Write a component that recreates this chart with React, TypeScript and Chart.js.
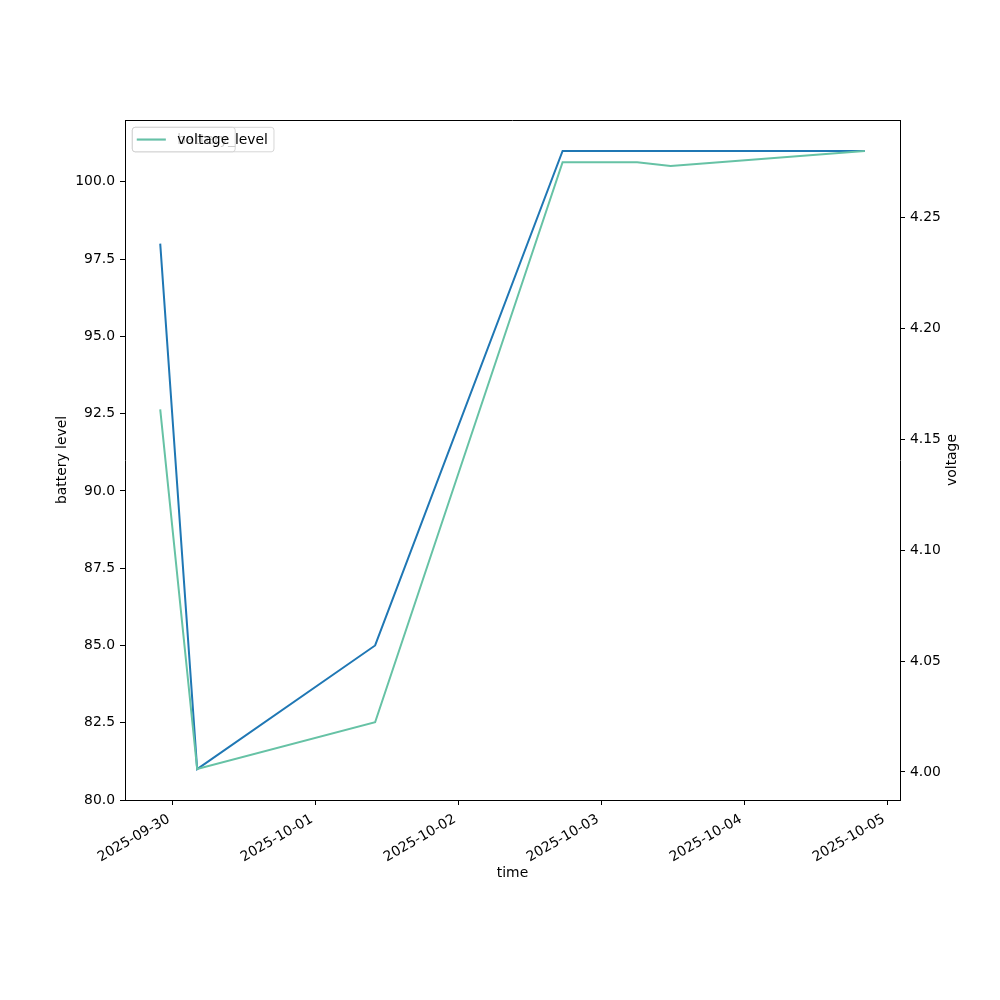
import React, { useEffect, useRef } from 'react';
import { Chart, registerables } from 'chart.js';

Chart.register(...registerables);

// ---- data ----
const TIMES = [
  '2025-09-29T21:53',
  '2025-09-30T04:05',
  '2025-10-01T09:57',
  '2025-10-02T17:25',
  '2025-10-03T05:56',
  '2025-10-03T11:33',
  '2025-10-04T20:08',
];
const BATTERY_LEVEL = [98, 81, 85, 101, 101, 101, 101];
const VOLTAGE = [4.1635, 4.0013, 4.0224, 4.2749, 4.2749, 4.2732, 4.28];

const X_TICK_DATES = ['2025-09-30', '2025-10-01', '2025-10-02', '2025-10-03', '2025-10-04', '2025-10-05'];
const BATTERY_TICKS = [80, 82.5, 85, 87.5, 90, 92.5, 95, 97.5, 100];
const VOLTAGE_TICKS = [4.0, 4.05, 4.1, 4.15, 4.2, 4.25];

const SERIES_LABELS = ['battery_level', 'voltage'];
const AXIS_TITLES = { x: 'time', left: 'battery level', right: 'voltage' };

const BATTERY_COLOR = '#1f77b4';
const VOLTAGE_COLOR = '#66c2a5';
const FONT_FAMILY = '"DejaVu Sans", sans-serif';
const FONT_SIZE = 13.9;

const toMs = (s: string) => Date.parse(s + ':00Z');
const dayMs = (s: string) => Date.parse(s + 'T00:00:00Z');

function padded(arr: number[]) {
  const mn = Math.min(...arr);
  const mx = Math.max(...arr);
  const m = (mx - mn) * 0.05;
  return { min: mn - m, max: mx + m };
}

function drawLegendBox(ctx: CanvasRenderingContext2D, x: number, y: number, label: string, color: string) {
  ctx.save();
  ctx.font = `${FONT_SIZE}px ${FONT_FAMILY}`;
  const tw = ctx.measureText(label).width;
  const w = 45 + tw + 6;
  const h = 24.5;
  const r = 2.8;
  ctx.beginPath();
  ctx.moveTo(x + r, y);
  ctx.lineTo(x + w - r, y);
  ctx.quadraticCurveTo(x + w, y, x + w, y + r);
  ctx.lineTo(x + w, y + h - r);
  ctx.quadraticCurveTo(x + w, y + h, x + w - r, y + h);
  ctx.lineTo(x + r, y + h);
  ctx.quadraticCurveTo(x, y + h, x, y + h - r);
  ctx.lineTo(x, y + r);
  ctx.quadraticCurveTo(x, y, x + r, y);
  ctx.closePath();
  ctx.fillStyle = 'rgba(255,255,255,0.8)';
  ctx.fill();
  ctx.strokeStyle = 'rgba(204,204,204,0.8)';
  ctx.lineWidth = 1;
  ctx.stroke();
  // handle
  ctx.beginPath();
  ctx.moveTo(x + 4.5, y + h / 2);
  ctx.lineTo(x + 33.5, y + h / 2);
  ctx.strokeStyle = color;
  ctx.lineWidth = 2;
  ctx.stroke();
  ctx.fillStyle = '#000';
  ctx.textAlign = 'left';
  ctx.textBaseline = 'middle';
  ctx.fillText(label, x + 45, y + h / 2 + 0.5);
  ctx.restore();
}

const framePlugin = {
  id: 'mplFrame',
  beforeDatasetsDraw(chart: any) {
    const { ctx, chartArea } = chart;
    ctx.save();
    ctx.strokeStyle = '#000';
    ctx.lineWidth = 1;
    ctx.beginPath();
    ctx.moveTo(chartArea.left, chartArea.top + 0.5);
    ctx.lineTo(chartArea.right, chartArea.top + 0.5);
    ctx.stroke();
    ctx.restore();
  },
  afterDraw(chart: any) {
    const { ctx, chartArea } = chart;
    // right axis title, reading bottom-to-top like matplotlib
    ctx.save();
    ctx.font = `${FONT_SIZE}px ${FONT_FAMILY}`;
    ctx.fillStyle = '#000';
    ctx.textAlign = 'center';
    ctx.textBaseline = 'middle';
    ctx.translate(chartArea.right + 52, (chartArea.top + chartArea.bottom) / 2);
    ctx.rotate(-Math.PI / 2);
    ctx.fillText(AXIS_TITLES.right, 0, 0);
    ctx.restore();

    const x0 = chartArea.left + 7.3;
    const y0 = chartArea.top + 7.3;
    drawLegendBox(ctx, x0, y0, SERIES_LABELS[0], BATTERY_COLOR);
    drawLegendBox(ctx, x0, y0, SERIES_LABELS[1], VOLTAGE_COLOR);
  },
};

export default function App() {
  const ref = useRef<HTMLCanvasElement | null>(null);

  useEffect(() => {
    if (!ref.current) return;
    const xs = TIMES.map(toMs);
    const xr = padded(xs);
    const br = padded(BATTERY_LEVEL);
    const vr = padded(VOLTAGE);
    const tickMs = X_TICK_DATES.map(dayMs);
    const font = { family: FONT_FAMILY, size: FONT_SIZE };

    const chart = new Chart(ref.current, {
      type: 'line',
      data: {
        datasets: [
          {
            label: SERIES_LABELS[1],
            data: xs.map((x, i) => ({ x, y: VOLTAGE[i] })),
            borderColor: VOLTAGE_COLOR,
            backgroundColor: VOLTAGE_COLOR,
            yAxisID: 'y1',
            order: 0,
          },
          {
            label: SERIES_LABELS[0],
            data: xs.map((x, i) => ({ x, y: BATTERY_LEVEL[i] })),
            borderColor: BATTERY_COLOR,
            backgroundColor: BATTERY_COLOR,
            yAxisID: 'y',
            order: 1,
          },
        ],
      },
      options: {
        responsive: false,
        animation: false,
        devicePixelRatio: 1,
        layout: { padding: { top: 120, left: 0, right: 0, bottom: 0 } },
        plugins: { legend: { display: false }, tooltip: { enabled: false } },
        elements: {
          point: { radius: 0, hoverRadius: 0 },
          line: { tension: 0, borderWidth: 2 },
        },
        scales: {
          x: {
            type: 'linear',
            position: 'bottom',
            min: xr.min,
            max: xr.max,
            afterBuildTicks: (s: any) => {
              s.ticks = tickMs.map((v) => ({ value: v }));
            },
            afterFit: (s: any) => {
              s.height = 200;
            },
            ticks: {
              autoSkip: false,
              minRotation: 30,
              maxRotation: 30,
              padding: 6,
              labelOffset: -4,
              color: '#000',
              font,
              callback: (v: any) => {
                const i = tickMs.indexOf(Number(v));
                return i >= 0 ? X_TICK_DATES[i] : '';
              },
            },
            grid: { drawOnChartArea: false, tickLength: 5, tickColor: '#000', tickWidth: 1 },
            border: { display: true, color: '#000', width: 1 },
            title: { display: true, text: AXIS_TITLES.x, color: '#000', font, padding: { top: 0, bottom: 118 } },
          },
          y: {
            type: 'linear',
            position: 'left',
            min: br.min,
            max: br.max,
            afterBuildTicks: (s: any) => {
              s.ticks = BATTERY_TICKS.map((v) => ({ value: v }));
            },
            afterFit: (s: any) => {
              s.width = 125;
            },
            ticks: {
              padding: 5,
              color: '#000',
              font,
              callback: (v: any) => Number(v).toFixed(1),
            },
            grid: { drawOnChartArea: false, tickLength: 5, tickColor: '#000', tickWidth: 1 },
            border: { display: true, color: '#000', width: 1 },
            title: { display: true, text: AXIS_TITLES.left, color: '#000', font, padding: { top: 53.6, bottom: 0 } },
          },
          y1: {
            type: 'linear',
            position: 'right',
            min: vr.min,
            max: vr.max,
            afterBuildTicks: (s: any) => {
              s.ticks = VOLTAGE_TICKS.map((v) => ({ value: v }));
            },
            afterFit: (s: any) => {
              s.width = 100;
            },
            ticks: {
              padding: 5,
              color: '#000',
              font,
              callback: (v: any) => Number(v).toFixed(2),
            },
            grid: { drawOnChartArea: false, tickLength: 5, tickColor: '#000', tickWidth: 1 },
            border: { display: true, color: '#000', width: 1 },
            title: { display: false },
          },
        },
      } as any,
      plugins: [framePlugin],
    });
    return () => chart.destroy();
  }, []);

  return (
    <div style={{ position: 'absolute', left: 0, top: 0, width: 1000, height: 1000, background: '#fff' }}>
      <canvas ref={ref} width={1000} height={1000} style={{ display: 'block', width: 1000, height: 1000 }} />
    </div>
  );
}
